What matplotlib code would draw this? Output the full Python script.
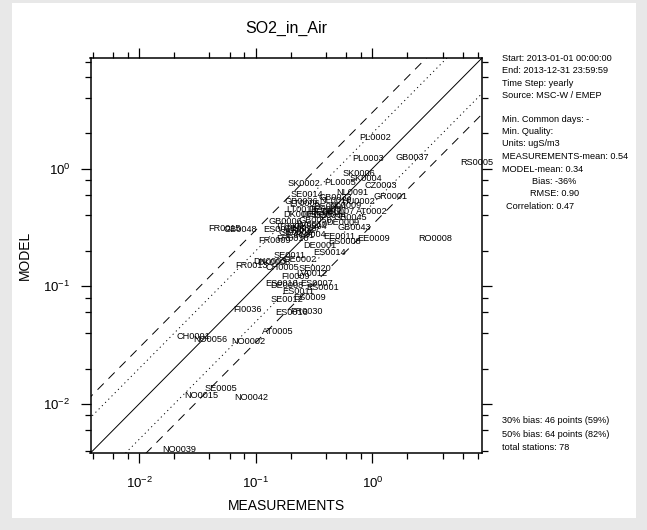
#!/usr/bin/env python3
"""Scatter of station labels, model vs measurements (SO2_in_Air)."""
import numpy as np
import matplotlib
matplotlib.use("Agg")
import matplotlib.pyplot as plt
from matplotlib.patches import Rectangle
from matplotlib.ticker import LogLocator, NullFormatter, LogFormatterMathtext

plt.rcParams["font.family"] = ["Liberation Sans", "DejaVu Sans"]
plt.rcParams["mathtext.fontset"] = "custom"
plt.rcParams["mathtext.rm"] = "Liberation Sans"
plt.rcParams["mathtext.it"] = "Liberation Sans:italic"

# station codes, measured and modelled yearly means (ugS/m3)
stations = [
    "PL0002", "PL0003", "GB0037", "RS0005", "SK0002", "PL0005", "SK0006", "SK0004",
    "CZ0003", "NL0091", "GR0001", "AT0002", "DE0009", "GB0043", "EE0009", "EE0011",
    "ES0008", "RO0008", "DE0001", "ES0014", "FR0015", "GB0048", "ES0017", "FR0009",
    "FR0013", "DK0003", "DK0008", "SE0011", "DE0002", "CH0005", "SE0020", "LV0012",
    "FI0009", "ES0010", "DE0008", "ES0007", "ES0001", "ES0011", "SE0012", "ES0009",
    "FI0036", "ES0016", "FR0030", "AT0005", "CH0001", "NO0056", "NO0002", "SE0005",
    "NO0015", "NO0042", "NO0039", "SE0014", "GB0036", "NL0010", "LT0015", "DK0005",
    "GB0045", "HU0002", "GB0033", "DE0003", "DE0007", "DE0005", "DE0044", "GB0006",
    "LV0010", "GB0013", "FI0017", "GB0002", "IE0001", "PL0004", "DE0004", "NL0009",
    "GB0050", "IT0001", "FR0010", "CH0004", "LT0006", "BE0014",
]
measured = [
    1.05, 0.92, 2.19, 7.92, 0.259, 0.528, 0.769, 0.883,
    1.19, 0.67, 1.42, 0.994, 0.56, 0.697, 1.03, 0.518,
    0.583, 3.45, 0.356, 0.433, 0.0544, 0.0732, 0.161, 0.146,
    0.0928, 0.132, 0.143, 0.197, 0.239, 0.168, 0.322, 0.304,
    0.221, 0.168, 0.185, 0.335, 0.377, 0.230, 0.185, 0.292,
    0.0857, 0.205, 0.27, 0.155, 0.0295, 0.0412, 0.0857, 0.0502,
    0.0339, 0.091, 0.0223, 0.275, 0.244, 0.478, 0.249, 0.239,
    0.644, 0.754, 0.478, 0.393, 0.508, 0.342, 0.433, 0.178,
    0.304, 0.239, 0.27, 0.221, 0.239, 0.292, 0.433, 0.583,
    0.322, 0.197, 0.209, 0.292, 0.264, 0.408,
]
modelled = [
    1.84, 1.22, 1.25, 1.13, 0.75, 0.765, 0.912, 0.828,
    0.722, 0.629, 0.582, 0.434, 0.35, 0.318, 0.256, 0.266,
    0.241, 0.256, 0.223, 0.195, 0.311, 0.305, 0.305, 0.246,
    0.151, 0.163, 0.160, 0.184, 0.170, 0.145, 0.142, 0.129,
    0.122, 0.106, 0.102, 0.106, 0.0982, 0.0908, 0.0777, 0.0808,
    0.064, 0.0603, 0.0615, 0.0416, 0.0377, 0.0356, 0.0342, 0.0136,
    0.0119, 0.01145, 0.00414, 0.605, 0.528, 0.538, 0.451, 0.409,
    0.386, 0.528, 0.571, 0.451, 0.434, 0.409, 0.402, 0.357,
    0.337, 0.311, 0.30, 0.288, 0.272, 0.277, 0.479, 0.488,
    0.364, 0.324, 0.256, 0.324, 0.507, 0.426,
]

info_top = [
    "Start: 2013-01-01 00:00:00",
    "End: 2013-12-31 23:59:59",
    "Time Step: yearly",
    "Source: MSC-W / EMEP",
]
info_stats = [
    "Min. Common days: -",
    "Min. Quality:",
    "Units: ugS/m3",
    "MEASUREMENTS-mean: 0.54",
    "MODEL-mean: 0.34",
    "Bias: -36%",
    "RMSE: 0.90",
    "Correlation: 0.47",
]
info_bottom = [
    "30% bias: 46 points (59%)",
    "50% bias: 64 points (82%)",
    "total stations: 78",
]

lims = (0.00384, 8.7)
ratios = [2.0, 3.0]

W, H = 647, 530
fig = plt.figure(figsize=(W / 100, H / 100), dpi=100, facecolor="#e8e8e8")
fig.patches.append(Rectangle((12 / W, 12 / H), 624 / W, 515 / H,
                             transform=fig.transFigure, facecolor="white",
                             edgecolor="none", zorder=-10))

ax = fig.add_axes([90.5 / W, 1 - 453 / H, 391.5 / W, 395 / H])
ax.set_facecolor("white")
ax.set_xscale("log")
ax.set_yscale("log")
ax.set_xlim(*lims)
ax.set_ylim(*lims)

# 1:1 and factor lines
xx = np.array([1e-4, 1e2])
ax.plot(xx, xx, color="black", lw=0.7)
ax.plot(xx, xx * ratios[0], color="black", lw=0.7, ls=(0, (1.2, 3.5)))
ax.plot(xx, xx / ratios[0], color="black", lw=0.7, ls=(0, (1.2, 3.5)))
ax.plot(xx, xx * ratios[1], color="black", lw=0.7, ls=(0, (9, 7)))
ax.plot(xx, xx / ratios[1], color="black", lw=0.7, ls=(0, (9, 7)))

for name, mx, my in zip(stations, measured, modelled):
    ax.text(mx, my, name, fontsize=6.6, ha="center", va="center", clip_on=False)

for a in (ax.xaxis, ax.yaxis):
    a.set_major_locator(LogLocator(base=10))
    a.set_minor_locator(LogLocator(base=10, subs=(2, 4, 6, 8)))
    a.set_minor_formatter(NullFormatter())
    a.set_major_formatter(LogFormatterMathtext())
ax.tick_params(which="both", direction="out", top=True, right=True, width=0.9)
ax.tick_params(which="major", length=7.5, labelsize=9.5)
ax.tick_params(axis="x", which="major", pad=9)
ax.tick_params(axis="y", which="major", pad=7)
ax.tick_params(which="minor", length=4)
for sp in ax.spines.values():
    sp.set_linewidth(1.1)

ax.set_xlabel("MEASUREMENTS", fontsize=10, labelpad=6)
ax.set_ylabel("MODEL", fontsize=10, labelpad=8)
ax.set_title("SO2_in_Air", fontsize=11.5, pad=18)

fs = 6.6
for i, line in enumerate(info_top):
    fig.text(501.5 / W, 1 - (58.3 + 12.4 * i) / H, line, fontsize=fs, va="center")
stat_x = [501.5, 501.5, 501.5, 501.5, 501.5, 532.5, 530.5, 505.5]
for i, line in enumerate(info_stats):
    fig.text(stat_x[i] / W, 1 - (119 + 12.5 * i) / H, line, fontsize=fs, va="center")
for i, line in enumerate(info_bottom):
    fig.text(501.5 / W, 1 - (420.7 + 13.5 * i) / H, line, fontsize=fs, va="center")

fig.savefig("out.png", dpi=100, facecolor=fig.get_facecolor())
